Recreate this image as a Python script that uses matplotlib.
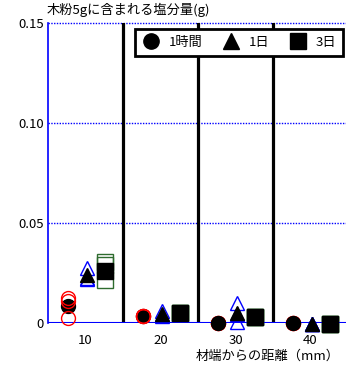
import matplotlib
matplotlib.use("Agg")
import matplotlib.pyplot as plt
from matplotlib.lines import Line2D

plt.rcParams['font.family'] = ['Noto Sans CJK JP', 'DejaVu Sans']

categories = ["10", "20", "30", "40"]
y_ticks = [0, 0.05, 0.10, 0.15]
y_ticklabels = ["0", "0.05", "0.10", "0.15"]

# means (filled markers)
mean_1h = [0.0085, 0.0035, 0.0000, 0.0000]
mean_1d = [0.0240, 0.0045, 0.0050, -0.0003]
mean_3d = [0.0260, 0.0048, 0.0030, -0.0003]

# individual measurements (open markers)
ind_1h = [[0.0123, 0.0110, 0.0023], [0.0035, 0.0035, 0.0035], [0.0, 0.0, 0.0], [0.0, 0.0, 0.0]]
ind_1d = [[0.0275, 0.0225, 0.0220], [0.0060, 0.0035, 0.0040], [0.0100, 0.0005, 0.0045], [-0.0003, -0.0003, -0.0003]]
ind_3d = [[0.0305, 0.0290, 0.0215], [0.0048, 0.0048, 0.0048], [0.0030, 0.0030, 0.0030], [-0.0003, -0.0003, -0.0003]]

legend_labels = ["1時間", "1日", "3日"]

fig = plt.figure(figsize=(3.46, 3.69), dpi=100)
ax = fig.add_axes([48/346, 46/369, 300/346, 300/369])

centers = [i + 0.5 for i in range(len(categories))]
offs = [-0.23, 0.02, 0.26]

ms_c, ms_t, ms_s = 10, 10, 11.5
for i, c in enumerate(centers):
    # squares: open under filled
    ax.plot([c + offs[2]] * 3, ind_3d[i], 's', ms=ms_s, mfc='none', mec='#2e6b2e', mew=1, zorder=3, clip_on=False)
    ax.plot([c + offs[2]], [mean_3d[i]], 's', ms=ms_s, color='black', zorder=4, clip_on=False)
    # circles
    ax.plot([c + offs[0]], [mean_1h[i]], 'o', ms=ms_c, color='black', zorder=4, clip_on=False)
    ax.plot([c + offs[0]] * 3, ind_1h[i], 'o', ms=ms_c, mfc='none', mec='red', mew=1,
            zorder=5 if i < 2 else 3, clip_on=False)
    # triangles: open under filled
    ax.plot([c + offs[1]] * 3, ind_1d[i], '^', ms=ms_t, mfc='none', mec='blue', mew=1, zorder=3, clip_on=False)
    ax.plot([c + offs[1]], [mean_1d[i]], '^', ms=ms_t, color='black', zorder=4, clip_on=False)

ax.set_xlim(0, 4)
ax.set_ylim(0, 0.15)

for x in [1, 2, 3]:
    ax.axvline(x, color='black', lw=2.3, zorder=2)

for y in [0.05, 0.10, 0.15]:
    ax.axhline(y, color='blue', lw=1, ls=(0, (1, 1)), zorder=1, clip_on=False)
ax.axhline(0, color='blue', lw=1.5, zorder=3)

for s in ['top', 'right', 'bottom']:
    ax.spines[s].set_visible(False)
ax.spines['left'].set_color('blue')
ax.spines['left'].set_linewidth(1.2)

ax.set_yticks(y_ticks)
ax.set_yticklabels(y_ticklabels, fontsize=9.5)
ax.tick_params(axis='y', length=0, pad=3)
ax.set_xticks(centers)
ax.set_xticklabels(categories, fontsize=9.5)
ax.tick_params(axis='x', length=0, pad=8)

handles = [
    Line2D([], [], marker='o', ls='none', color='black', ms=11),
    Line2D([], [], marker='^', ls='none', color='black', ms=11),
    Line2D([], [], marker='s', ls='none', color='black', ms=12),
]
leg = fig.legend(handles, legend_labels, ncol=3, loc='upper right',
                 bbox_to_anchor=(346/346, 1 - 26/369), fontsize=9.5,
                 frameon=True, fancybox=False, edgecolor='black',
                 handletextpad=0.7, columnspacing=1.5, borderpad=0.55,
                 handlelength=1.3, borderaxespad=0.2)
leg.get_frame().set_linewidth(2)
leg.get_frame().set_alpha(1)

fig.text(47/346, 1 - 10/369, "木粉5gに含まれる塩分量(g)", fontsize=9.5, ha='left', va='center')
fig.text(268/346, 1 - 356/369, "材端からの距離（mm）", fontsize=9.5, ha='center', va='center')

fig.savefig("out.png", dpi=100)
